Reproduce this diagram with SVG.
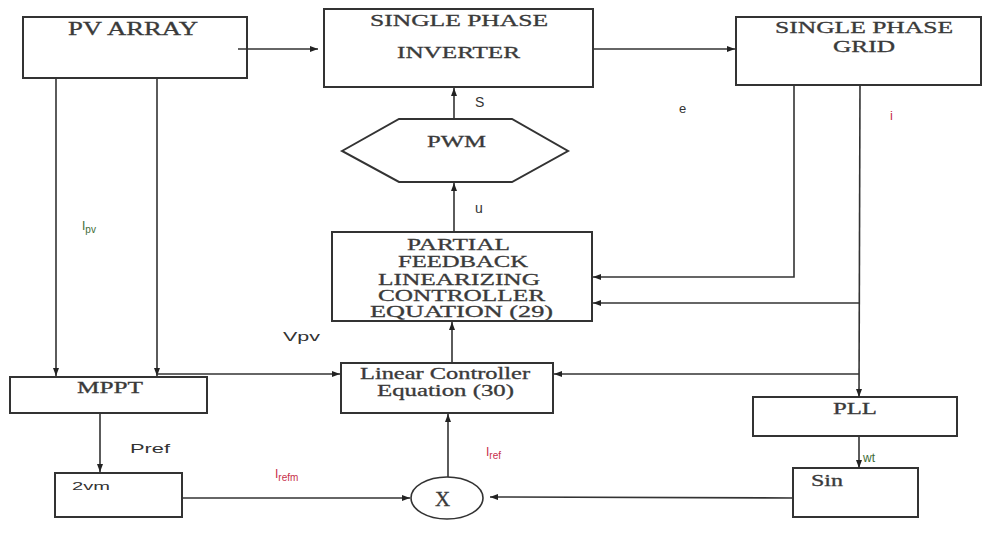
<svg xmlns="http://www.w3.org/2000/svg" width="982" height="536" viewBox="0 0 982 536">
<defs>
<marker id="ah" markerWidth="8" markerHeight="6" refX="8" refY="3" orient="auto" markerUnits="userSpaceOnUse">
<path d="M0,0 L8,3 L0,6 Z" fill="#222"/>
</marker>
<style>
.box{fill:#fff;stroke:#333;stroke-width:2}
.t{font-family:"Liberation Serif","Times New Roman",serif;fill:#3a3a3a;text-anchor:start;stroke:#3a3a3a;stroke-width:0.3}
.s{font-family:"Liberation Sans",Arial,sans-serif;fill:#333}
.c{fill:none;stroke:#333;stroke-width:1.6;marker-end:url(#ah)}
.red{fill:#c8304a}
.grn{fill:#3d6b35}
</style>
</defs>
<rect width="982" height="536" fill="#fff"/>

<g id="pv-array">
<rect class="box" x="23" y="17" width="224" height="61"/>
<text class="t" x="68" y="35" font-size="18" textLength="130" lengthAdjust="spacingAndGlyphs">PV ARRAY</text>
</g>
<g id="inverter">
<rect class="box" x="324" y="9" width="269" height="78"/>
<text class="t" x="370" y="26" font-size="16" textLength="178" lengthAdjust="spacingAndGlyphs">SINGLE PHASE</text>
<text class="t" x="397" y="58" font-size="16" textLength="123" lengthAdjust="spacingAndGlyphs">INVERTER</text>
</g>
<g id="grid">
<rect class="box" x="736" y="17" width="245" height="68"/>
<text class="t" x="775" y="33" font-size="16" textLength="178" lengthAdjust="spacingAndGlyphs">SINGLE PHASE</text>
<text class="t" x="833" y="52" font-size="16" textLength="62" lengthAdjust="spacingAndGlyphs">GRID</text>
</g>
<g id="pwm">
<polygon class="box" points="342,151 399,119 512,119 568,151 512,182 399,182" stroke-width="1.5"/>
<text class="t" x="427" y="147" font-size="16" textLength="59" lengthAdjust="spacingAndGlyphs">PWM</text>
</g>
<g id="pfl-controller">
<rect class="box" x="332" y="232" width="260" height="89"/>
<text class="t" x="407" y="250" font-size="16" textLength="103" lengthAdjust="spacingAndGlyphs">PARTIAL</text>
<text class="t" x="398" y="267" font-size="16" textLength="130" lengthAdjust="spacingAndGlyphs">FEEDBACK</text>
<text class="t" x="378" y="285" font-size="16" textLength="162" lengthAdjust="spacingAndGlyphs">LINEARIZING</text>
<text class="t" x="378" y="301" font-size="16" textLength="167" lengthAdjust="spacingAndGlyphs">CONTROLLER</text>
<text class="t" x="370" y="317" font-size="16" textLength="183" lengthAdjust="spacingAndGlyphs">EQUATION (29)</text>
</g>
<g id="linear-controller">
<rect class="box" x="341" y="363" width="212" height="50"/>
<text class="t" x="360" y="379" font-size="16" textLength="170" lengthAdjust="spacingAndGlyphs">Linear Controller</text>
<text class="t" x="377" y="396" font-size="16" textLength="137" lengthAdjust="spacingAndGlyphs">Equation (30)</text>
</g>
<g id="mppt">
<rect class="box" x="10" y="377" width="197" height="36"/>
<text class="t" x="77" y="393" font-size="16" textLength="66" lengthAdjust="spacingAndGlyphs">MPPT</text>
</g>
<g id="pll">
<rect class="box" x="753" y="397" width="204" height="39"/>
<text class="t" x="833" y="414" font-size="16" textLength="44" lengthAdjust="spacingAndGlyphs">PLL</text>
</g>
<g id="sin">
<rect class="box" x="793" y="468" width="125" height="49"/>
<text class="t" x="811" y="486" font-size="16" textLength="32" lengthAdjust="spacingAndGlyphs">Sin</text>
</g>
<g id="twovm">
<rect class="box" x="55" y="473" width="127" height="44"/>
<text class="s" x="72" y="490" font-size="11" textLength="38" lengthAdjust="spacingAndGlyphs">2vm</text>
</g>
<g id="multiplier">
<ellipse cx="447" cy="498" rx="36" ry="21" fill="#fff" stroke="#333" stroke-width="1.6"/>
<text class="t" x="435" y="506" font-size="21">X</text>
</g>

<g id="connectors">
<line class="c" x1="238" y1="49" x2="318" y2="49"/>
<line class="c" x1="593" y1="49" x2="735" y2="49"/>
<line class="c" x1="454" y1="119" x2="454" y2="88"/>
<line class="c" x1="454" y1="232" x2="454" y2="183"/>
<line class="c" x1="452" y1="363" x2="452" y2="322"/>
<line class="c" x1="448" y1="477" x2="448" y2="414"/>
<polyline class="c" points="794,85 794,277 593,277"/>
<polyline class="c" points="860,85 859,397"/>
<line class="c" x1="859" y1="303" x2="593" y2="303"/>
<line class="c" x1="859" y1="374" x2="554" y2="374"/>
<line class="c" x1="56" y1="78" x2="56" y2="376"/>
<line class="c" x1="157" y1="78" x2="157" y2="376"/>
<line class="c" x1="157" y1="374" x2="340" y2="374"/>
<line class="c" x1="100" y1="413" x2="100" y2="472"/>
<line class="c" x1="182" y1="498" x2="410" y2="498"/>
<line class="c" x1="793" y1="498" x2="490" y2="497"/>
<line class="c" x1="859" y1="436" x2="859" y2="468"/>
</g>

<g id="labels">
<text class="s" x="475" y="107" font-size="14">S</text>
<text class="s" x="475" y="213" font-size="14">u</text>
<text class="s" x="679" y="113" font-size="13" fill="#666">e</text>
<text class="s red" x="890" y="120" font-size="13">i</text>
<text class="s grn" x="82" y="230" font-size="12">I<tspan font-size="10" dy="3">pv</tspan></text>
<text class="s" x="283" y="341" font-size="13" textLength="37" lengthAdjust="spacingAndGlyphs">Vpv</text>
<text class="s" x="130" y="453" font-size="13" textLength="40" lengthAdjust="spacingAndGlyphs">Pref</text>
<text class="s red" x="275" y="478" font-size="12">I<tspan font-size="10" dy="3">refm</tspan></text>
<text class="s red" x="486" y="456" font-size="12">I<tspan font-size="10" dy="3">ref</tspan></text>
<text class="s grn" x="863" y="462" font-size="12">wt</text>
</g>
</svg>
